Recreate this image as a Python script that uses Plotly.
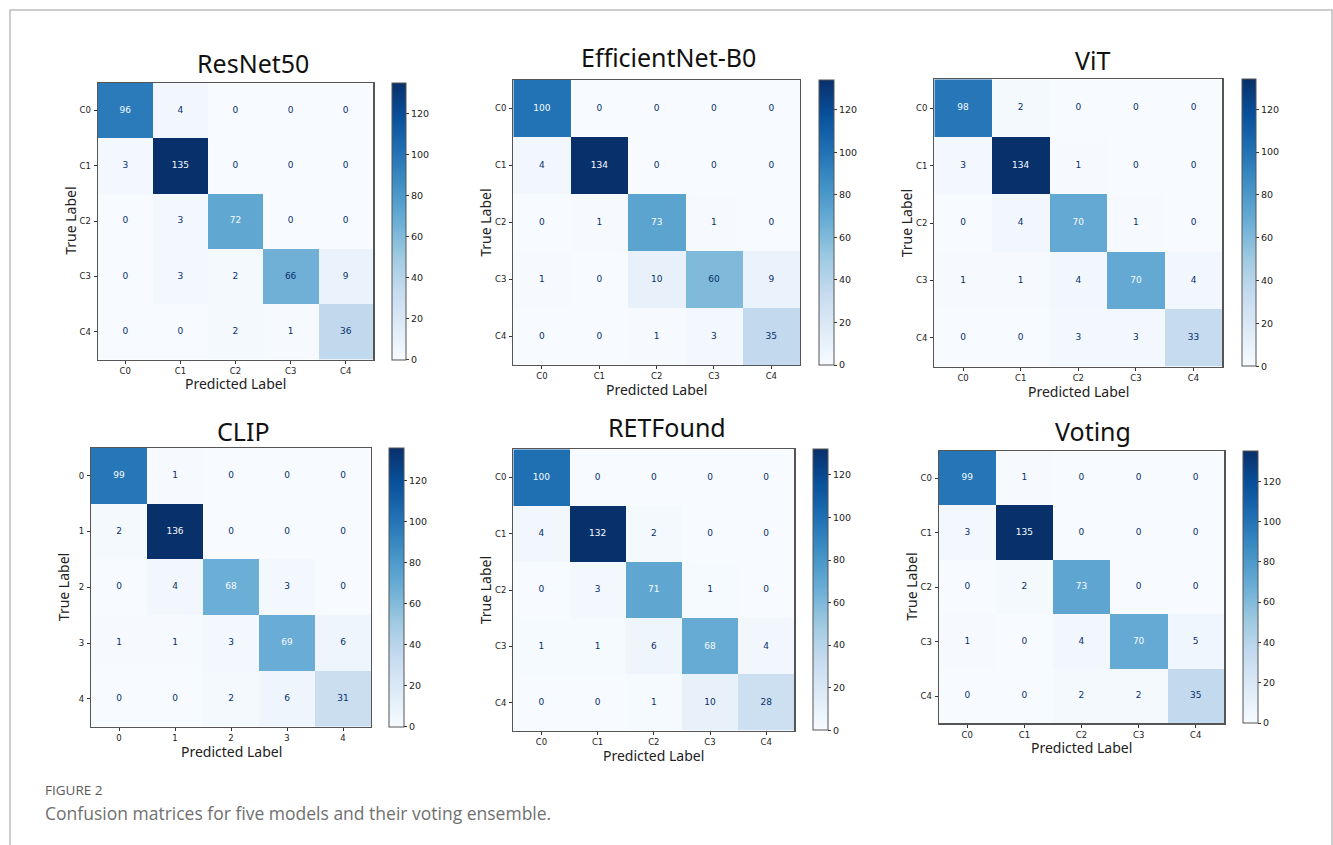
import plotly.graph_objects as go

W, H = 1333, 845

# ---------------- data ----------------
model_names = ["ResNet50", "EfficientNet-B0", "ViT", "CLIP", "RETFound", "Voting"]
class_labels_c = ["C0", "C1", "C2", "C3", "C4"]
class_labels_num = ["0", "1", "2", "3", "4"]

cm_resnet50 = [[96, 4, 0, 0, 0],
               [3, 135, 0, 0, 0],
               [0, 3, 72, 0, 0],
               [0, 3, 2, 66, 9],
               [0, 0, 2, 1, 36]]
cm_efficientnet = [[100, 0, 0, 0, 0],
                   [4, 134, 0, 0, 0],
                   [0, 1, 73, 1, 0],
                   [1, 0, 10, 60, 9],
                   [0, 0, 1, 3, 35]]
cm_vit = [[98, 2, 0, 0, 0],
          [3, 134, 1, 0, 0],
          [0, 4, 70, 1, 0],
          [1, 1, 4, 70, 4],
          [0, 0, 3, 3, 33]]
cm_clip = [[99, 1, 0, 0, 0],
           [2, 136, 0, 0, 0],
           [0, 4, 68, 3, 0],
           [1, 1, 3, 69, 6],
           [0, 0, 2, 6, 31]]
cm_retfound = [[100, 0, 0, 0, 0],
               [4, 132, 2, 0, 0],
               [0, 3, 71, 1, 0],
               [1, 1, 6, 68, 4],
               [0, 0, 1, 10, 28]]
cm_voting = [[99, 1, 0, 0, 0],
             [3, 135, 0, 0, 0],
             [0, 2, 73, 0, 0],
             [1, 0, 4, 70, 5],
             [0, 0, 2, 2, 35]]

matrices = [cm_resnet50, cm_efficientnet, cm_vit, cm_clip, cm_retfound, cm_voting]
tick_sets = [class_labels_c, class_labels_c, class_labels_c,
             class_labels_num, class_labels_c, class_labels_c]
colorbar_ticks = [0, 20, 40, 60, 80, 100, 120]

# ---------------- layout geometry (pixels) ----------------
# heatmap box (left, top, right, bottom), colorbar (left, right), title center (x, y)
boxes = [
    ((97.7, 82.7, 373.3, 359.5), (391.7, 405.7), (253, 63)),
    ((513.3, 80.0, 800.0, 365.0), (819.3, 834.0), (668, 57)),
    ((934.3, 79.3, 1222.3, 366.7), (1241.7, 1256.0), (1092, 60)),
    ((91.0, 447.7, 371.0, 726.7), (389.3, 404.0), (243, 431)),
    ((513.3, 449.3, 794.3, 730.7), (812.7, 827.3), (667, 427)),
    ((938.7, 451.0, 1224.3, 723.3), (1243.3, 1258.3), (1093, 431)),
]

blues = [[0.0, "rgb(247,251,255)"], [0.125, "rgb(222,235,247)"],
         [0.25, "rgb(198,219,239)"], [0.375, "rgb(158,202,225)"],
         [0.5, "rgb(107,174,214)"], [0.625, "rgb(66,146,198)"],
         [0.75, "rgb(33,113,181)"], [0.875, "rgb(8,81,156)"],
         [1.0, "rgb(8,48,107)"]]
dark_txt = "rgb(8,48,107)"
light_txt = "rgb(247,251,255)"

def px(x):
    return x / W

def py(y):
    return 1 - y / H

fig = go.Figure()
annotations = []
layout_axes = {}

for i, (name, cm, ticks, (hm, cb, tc)) in enumerate(zip(model_names, matrices, tick_sets, boxes)):
    n = i + 1
    xa = "x" if n == 1 else f"x{n}"
    ya = "y" if n == 1 else f"y{n}"
    l, t, r, b = hm
    zmax = max(max(row) for row in cm)
    zmin = min(min(row) for row in cm)
    thresh = (zmax + zmin) / 2.0
    idx = list(range(len(ticks)))

    fig.add_trace(go.Heatmap(
        z=cm, x=idx, y=idx, xaxis=xa, yaxis=ya,
        colorscale=blues, zmin=zmin, zmax=zmax,
        hoverinfo="skip",
        colorbar=dict(
            x=px(cb[0]), xanchor="left", xpad=0,
            y=py(t), yanchor="top", ypad=0,
            len=(b - t) / H, lenmode="fraction",
            thickness=cb[1] - cb[0], thicknessmode="pixels",
            outlinewidth=1, outlinecolor="#555",
            tickvals=colorbar_ticks, ticks="outside", ticklen=3,
            tickcolor="#333", tickwidth=1,
            tickfont=dict(family="DejaVu Sans", size=9.5, color="#222"),
        ),
    ))

    xs, ys, txt, cols = [], [], [], []
    for ri, row in enumerate(cm):
        for ci, v in enumerate(row):
            xs.append(ci)
            ys.append(ri)
            txt.append(str(v))
            cols.append(light_txt if v >= thresh else dark_txt)
    fig.add_trace(go.Scatter(
        x=xs, y=ys, xaxis=xa, yaxis=ya, mode="text", text=txt,
        textfont=dict(family="DejaVu Sans", size=9, color=cols),
        hoverinfo="skip", showlegend=False,
    ))

    axis_common = dict(
        tickmode="array", tickvals=idx, ticktext=ticks,
        ticks="outside", ticklen=3, tickwidth=1, tickcolor="#333",
        tickfont=dict(family="DejaVu Sans", size=8.5, color="#222"),
        showgrid=False, zeroline=False, showline=True, mirror=True,
        linecolor="#555", linewidth=1.2,
    )
    layout_axes["xaxis" if n == 1 else f"xaxis{n}"] = dict(
        axis_common, domain=[px(l), px(r)], range=[-0.5, 4.5],
        anchor=ya, ticklabelstandoff=0)
    layout_axes["yaxis" if n == 1 else f"yaxis{n}"] = dict(
        axis_common, domain=[py(b), py(t)], range=[4.5, -0.5],
        anchor=xa, ticklabelstandoff=1)

    annotations.append(dict(
        text=name, x=px(tc[0]), y=py(tc[1]), xref="paper", yref="paper",
        xanchor="center", yanchor="middle", showarrow=False,
        font=dict(family="Noto Sans", size=25, color="#111")))
    annotations.append(dict(
        text="Predicted Label", x=px((l + r) / 2), y=py(b + 24.5),
        xref="paper", yref="paper", xanchor="center", yanchor="middle",
        showarrow=False, font=dict(family="Noto Sans", size=14, color="#222")))
    annotations.append(dict(
        text="True Label", x=px(l - 28), y=py((t + b) / 2),
        xref="paper", yref="paper", xanchor="center", yanchor="middle",
        textangle=-90, showarrow=False,
        font=dict(family="Noto Sans", size=14, color="#222")))

annotations.append(dict(
    text="FIGURE 2", x=px(43), y=py(790), xref="paper", yref="paper",
    xanchor="left", yanchor="middle", showarrow=False,
    font=dict(family="Open Sans", size=13.5, color="#5a5a5a")))
annotations.append(dict(
    text="Confusion matrices for five models and their voting ensemble.",
    x=px(43), y=py(813), xref="paper", yref="paper",
    xanchor="left", yanchor="middle", showarrow=False,
    font=dict(family="Open Sans", size=17.5, color="#707070")))

frame = dict(
    type="path", xref="paper", yref="paper",
    path=f"M {px(10)},{py(845)} L {px(10)},{py(10)} L {px(1332)},{py(10)} L {px(1332)},{py(845)}",
    line=dict(color="#bdbdbd", width=1.5))

fig.update_layout(
    width=W, height=H, margin=dict(l=0, r=0, t=0, b=0),
    paper_bgcolor="white", plot_bgcolor="white",
    showlegend=False, annotations=annotations, shapes=[frame],
    **layout_axes)

fig.write_html(
    "out.html",
    config={"displayModeBar": False, "staticPlot": True},
    post_script="document.body.style.margin='0';document.body.style.padding='0';document.body.style.overflow='hidden';",
)
